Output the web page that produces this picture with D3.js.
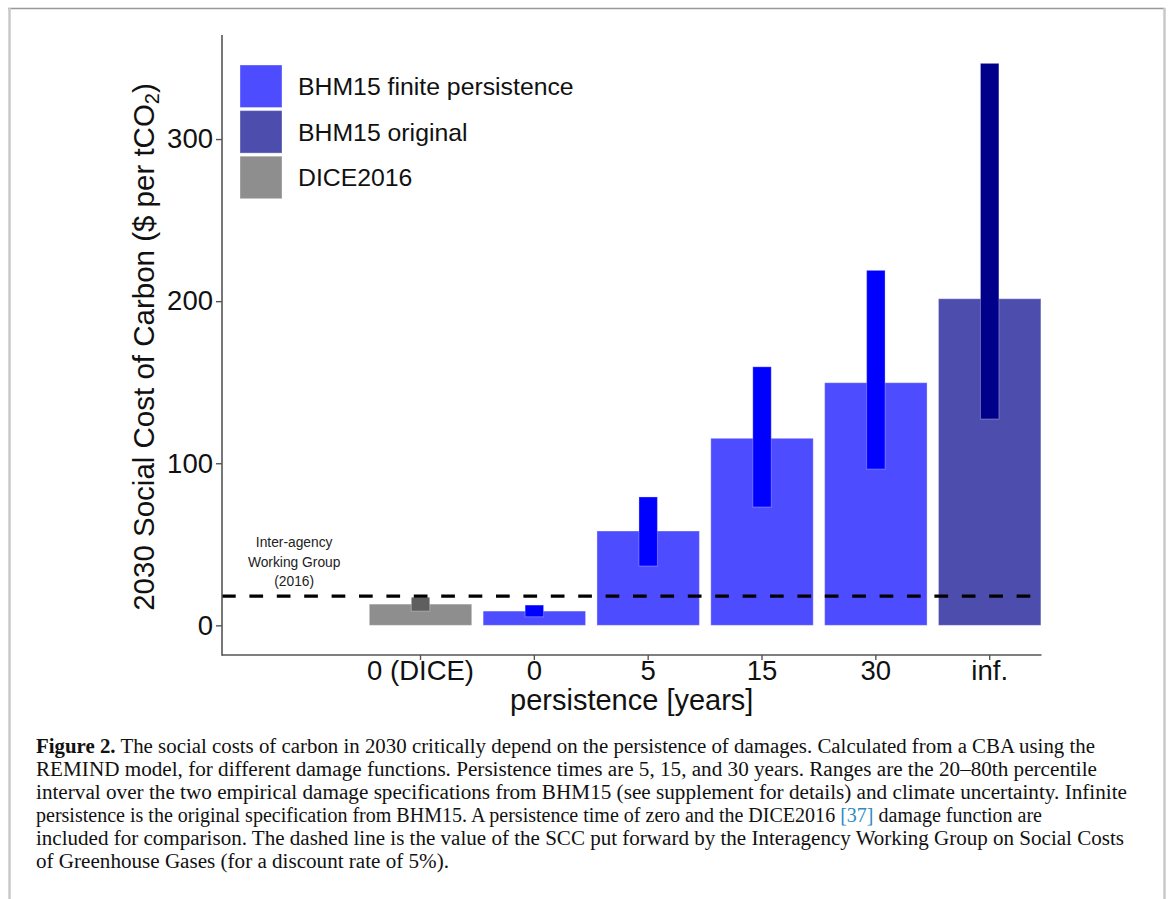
<!DOCTYPE html>
<html>
<head>
<meta charset="utf-8">
<script src="https://cdn.jsdelivr.net/npm/d3@7"></script>
<style>
  body { margin: 0; background: #fff; }
  text { font-family: "Liberation Sans", Arial, sans-serif; }
  text.caption { font-family: "Liberation Serif", "Times New Roman", serif; }
</style>
</head>
<body>
<div class="scc-plot"></div>
<script>
// values
const categories = ["0 (DICE)", "0", "5", "15", "30", "inf."];
const damageType = ["DICE2016", "BHM15 finite persistence", "BHM15 finite persistence",
                    "BHM15 finite persistence", "BHM15 finite persistence", "BHM15 original"];
const sccMedian = [13.1, 8.8, 58.2, 115.4, 149.7, 201.5];
const sccLow    = [8.8, 5.3, 36.6, 73.0, 96.4, 127.3];
const sccHigh   = [17.3, 12.5, 79.2, 159.5, 219.0, 346.7];
const iwgValue  = 18;
const yTicks = [0, 100, 200, 300];
const legendLabels = ["BHM15 finite persistence", "BHM15 original", "DICE2016"];

const captionLines = [
  [["Figure 2.", "bold"], [" The social costs of carbon in 2030 critically depend on the persistence of damages. Calculated from a CBA using the"]],
  [["REMIND model, for different damage functions. Persistence times are 5, 15, and 30 years. Ranges are the 20\u201380th percentile"]],
  [["interval over the two empirical damage specifications from BHM15 (see supplement for details) and climate uncertainty. Infinite"]],
  [["persistence is the original specification from BHM15. A persistence time of zero and the DICE2016 "], ["[37]", "ref"], [" damage function are"]],
  [["included for comparison. The dashed line is the value of the SCC put forward by the Interagency Working Group on Social Costs"]],
  [["of Greenhouse Gases (for a discount rate of 5%)."]]
];
// where each caption line ends in the figure
const captionEnds = [1095, 1097, 1127, 1042, 1124, 449];

const data = categories.map((c, i) => ({
  cat: c, type: damageType[i], mid: sccMedian[i], lo: sccLow[i], hi: sccHigh[i]
}));

const width = 1171, height = 899;
const panel = {left: 222, right: 1041.5, top: 35, bottom: 655};

const barColor = d3.scaleOrdinal()
  .domain(legendLabels)
  .range(["#4d4dff", "#4d4dae", "#8e8e8e"]);
const rangeColor = d3.scaleOrdinal()
  .domain(legendLabels)
  .range(["#0000ff", "#00008b", "#5f5f5f"]);

const svg = d3.select(".scc-plot")
  .append("svg")
  .attr("width", width)
  .attr("height", height);

svg.append("rect").attr("width", width).attr("height", height).attr("fill", "#fff");

// page frame
svg.append("line").attr("x1", 8).attr("x2", 1165).attr("y1", 8.5).attr("y2", 8.5)
  .attr("stroke", "#999").attr("stroke-width", 1.5);
svg.append("line").attr("x1", 9.5).attr("x2", 9.5).attr("y1", 8).attr("y2", height)
  .attr("stroke", "#c8c8c8").attr("stroke-width", 2.5);
svg.append("line").attr("x1", 1164.5).attr("x2", 1164.5).attr("y1", 8).attr("y2", height)
  .attr("stroke", "#c8c8c8").attr("stroke-width", 2.5);

const x = d3.scaleBand()
  .domain(categories)
  .range([363.6, 1046.6])
  .paddingInner(0.1)
  .paddingOuter(0.05);

const y = d3.scaleLinear()
  .domain([-18.3, 364.2])
  .range([panel.bottom, panel.top]);

const rangeW = x.bandwidth() * 0.18;

// bars
svg.selectAll("rect.bar")
  .data(data)
  .enter()
  .append("rect")
  .attr("class", "bar")
  .attr("x", d => x(d.cat))
  .attr("width", x.bandwidth())
  .attr("y", d => y(d.mid))
  .attr("height", d => y(0) - y(d.mid))
  .attr("fill", d => barColor(d.type))
  .attr("stroke", "#fff").attr("stroke-opacity", 0.35).attr("stroke-width", 1);

// percentile ranges
svg.selectAll("rect.range")
  .data(data)
  .enter()
  .append("rect")
  .attr("class", "range")
  .attr("x", d => x(d.cat) + x.bandwidth() / 2 - rangeW / 2)
  .attr("width", rangeW)
  .attr("y", d => y(d.hi))
  .attr("height", d => y(d.lo) - y(d.hi))
  .attr("fill", d => rangeColor(d.type))
  .attr("stroke", "#fff").attr("stroke-opacity", 0.3).attr("stroke-width", 1);

// IWG dashed line
svg.append("line")
  .attr("x1", panel.left).attr("x2", panel.right)
  .attr("y1", y(iwgValue)).attr("y2", y(iwgValue))
  .attr("stroke", "#000")
  .attr("stroke-width", 3.4)
  .attr("stroke-dasharray", "13.7,13.7");

// annotation
const annX = x(categories[0]) + x.bandwidth() / 2 - 1.11 * x.step();
["Inter-agency", "Working Group", "(2016)"].forEach((t, i) => {
  svg.append("text")
    .attr("x", annX)
    .attr("y", y(iwgValue) - 49 + i * 19.5)
    .attr("text-anchor", "middle")
    .attr("font-size", 13.8)
    .attr("fill", "#222")
    .text(t);
});

// axes
const yAxis = svg.append("g")
  .attr("transform", `translate(${panel.left},0)`)
  .call(d3.axisLeft(y).tickValues(yTicks).tickSize(6).tickSizeOuter(0).tickPadding(3));
yAxis.select(".domain").remove();
yAxis.selectAll("line").attr("stroke", "#555").attr("stroke-width", 1.4);
yAxis.selectAll("text").attr("font-size", 27.5).attr("fill", "#111");

const xAxis = svg.append("g")
  .attr("transform", `translate(0,${panel.bottom})`)
  .call(d3.axisBottom(x).tickSize(5).tickSizeOuter(0).tickPadding(0.5));
xAxis.select(".domain").remove();
xAxis.selectAll("line").attr("stroke", "#555").attr("stroke-width", 1.4);
xAxis.selectAll("text").attr("font-size", 27.5).attr("fill", "#111");

svg.append("line")
  .attr("x1", panel.left).attr("x2", panel.right)
  .attr("y1", panel.bottom).attr("y2", panel.bottom)
  .attr("stroke", "#555").attr("stroke-width", 1.6);
svg.append("line")
  .attr("x1", panel.left).attr("x2", panel.left)
  .attr("y1", panel.top).attr("y2", panel.bottom + 0.8)
  .attr("stroke", "#555").attr("stroke-width", 1.6);

// axis titles
svg.append("text")
  .attr("x", (panel.left + panel.right) / 2)
  .attr("y", 710)
  .attr("text-anchor", "middle")
  .attr("font-size", 29)
  .attr("fill", "#111")
  .text("persistence [years]");

const yTitle = svg.append("text")
  .attr("transform", "translate(154,347) rotate(-90)")
  .attr("text-anchor", "middle")
  .attr("font-size", 29.5)
  .attr("fill", "#111");
yTitle.append("tspan").text("2030 Social Cost of Carbon ($ per tCO");
yTitle.append("tspan").attr("font-size", 20).attr("dy", 5).text("2");
yTitle.append("tspan").attr("dy", -5).text(")");

// legend
const legend = svg.selectAll("g.legend")
  .data(legendLabels)
  .enter()
  .append("g")
  .attr("class", "legend")
  .attr("transform", (d, i) => `translate(240,${65 + i * 45.6})`);
legend.append("rect")
  .attr("width", 42).attr("height", 42.5)
  .attr("fill", d => barColor(d))
  .attr("stroke", "#fff").attr("stroke-opacity", 0.35).attr("stroke-width", 1);
legend.append("text")
  .attr("x", 58)
  .attr("y", 30)
  .attr("font-size", 24.8)
  .attr("fill", "#111")
  .text(d => d);

// caption
captionLines.forEach((parts, i) => {
  const t = svg.append("text")
    .attr("class", "caption")
    .attr("x", 36)
    .attr("y", 753 + i * 23)
    .attr("font-size", 20)
    .attr("fill", "#111")
    .attr("textLength", captionEnds[i] - 36)
    .attr("lengthAdjust", "spacingAndGlyphs");
  parts.forEach(p => {
    const s = t.append("tspan").text(p[0]);
    if (p[1] === "bold") s.attr("font-weight", "bold");
    if (p[1] === "ref") s.attr("fill", "#2b8cc4");
  });
});
</script>
</body>
</html>
